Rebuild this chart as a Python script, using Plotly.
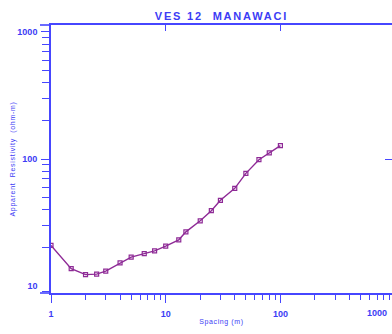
import plotly.graph_objects as go

# Sounding data: electrode half-spacing (m) and apparent resistivity (ohm-m)
spacing = [1, 1.5, 2, 2.5, 3, 4, 5, 6.5, 8, 10, 13, 15, 20, 25, 30, 40, 50, 65, 80, 100]
resistivity = [20.9, 13.7, 12.3, 12.4, 13.1, 15.2, 16.9, 18.0, 18.9, 20.6,
               23.1, 26.7, 32.6, 39.2, 47.3, 58.7, 77.1, 98.8, 111.7, 127.4]

x_major = [1, 10, 100]
x_major_text = ["1", "10", "100"]
y_major = [10, 100, 1000]
y_major_text = ["10", "100", "1000"]
minor_steps = [2, 3, 4, 5, 6, 7, 8, 9]
x_minor = [m * d for d in (1, 10, 100) for m in minor_steps]
y_minor = [m * d for d in (1, 10, 100) for m in minor_steps]

AXIS = "#4646ff"
TEXT = "#3c3cf5"
CURVE = "#8e2a96"

X_RANGE = [0, 2.973]
Y_RANGE = [0.945, 3.055]


def bold(labels):
    return ["<b>%s</b>" % s for s in labels]


fig = go.Figure()
fig.add_trace(go.Scatter(
    x=spacing, y=resistivity, mode="lines+markers",
    line=dict(color=CURVE, width=1.4),
    marker=dict(symbol="square-open", size=4, color=CURVE, line=dict(width=1.2, color=CURVE)),
    showlegend=False, hoverinfo="skip",
))
# empty traces so the decorative overlay axes get their own subplots
for xa, ya in (("x2", "y"), ("x", "y2"), ("x", "y3")):
    fig.add_trace(go.Scatter(x=[], y=[], xaxis=xa, yaxis=ya, showlegend=False))

tick_font = dict(family="Liberation Sans, Arial", size=9, color=TEXT)

fig.update_layout(
    width=392, height=334,
    margin=dict(l=51, r=0, t=25, b=41),
    paper_bgcolor="white", plot_bgcolor="white",
    title=dict(
        text='<b><span style="letter-spacing:1.8px">VES 12  MANAWACI</span></b>',
        font=dict(family="Liberation Sans, Arial", size=11, color=TEXT),
        x=0.5, xref="paper", xanchor="center",
        y=1 - 16 / 334, yref="container", yanchor="middle",
    ),
    xaxis=dict(
        type="log", range=X_RANGE, showgrid=False, zeroline=False,
        showline=True, linecolor=AXIS, linewidth=1.6,
        tickmode="array", tickvals=x_major, ticktext=bold(x_major_text),
        ticks="outside", ticklen=8, tickwidth=1.2, tickcolor=AXIS,
        tickfont=tick_font, ticklabelstandoff=3,
        minor=dict(tickmode="array", tickvals=x_minor, ticks="outside",
                   ticklen=5, tickwidth=1.2, tickcolor=AXIS),
        title=dict(text='<span style="letter-spacing:0.6px">Spacing (m)</span>',
                   font=dict(family="Liberation Sans, Arial", size=7, color=TEXT),
                   standoff=2),
    ),
    xaxis2=dict(
        type="log", range=X_RANGE, overlaying="x", side="top", anchor="y",
        showgrid=False, zeroline=False, showline=True, linecolor=AXIS, linewidth=1.6,
        tickmode="array", tickvals=[10, 100], ticks="inside", ticklen=6,
        tickwidth=1.2, tickcolor=AXIS, showticklabels=False,
    ),
    yaxis=dict(
        type="log", range=Y_RANGE, showgrid=False, zeroline=False,
        showline=True, linecolor=AXIS, linewidth=1.6,
        tickmode="array", tickvals=y_major, ticktext=bold(y_major_text),
        ticks="", tickfont=tick_font, ticklabelstandoff=10,
        minor=dict(tickmode="array", tickvals=y_minor, ticks="outside",
                   ticklen=7, tickwidth=1.2, tickcolor=AXIS),
        title=dict(text='<span style="letter-spacing:0.7px">Apparent  Resistivity  (ohm-m)</span>',
                   font=dict(family="Liberation Sans, Arial", size=7, color=TEXT),
                   standoff=1),
    ),
    yaxis2=dict(
        type="log", range=Y_RANGE, overlaying="y", side="right", anchor="x",
        showgrid=False, zeroline=False, showline=False,
        tickmode="array", tickvals=[100], ticks="inside", ticklen=7,
        tickwidth=1.4, tickcolor=AXIS, showticklabels=False,
    ),
    yaxis3=dict(
        type="log", range=Y_RANGE, overlaying="y", side="left", anchor="x",
        showgrid=False, zeroline=False, showline=False,
        tickmode="array", tickvals=[100, 1000], ticks="outside", ticklen=9,
        tickwidth=1.2, tickcolor=AXIS, showticklabels=False,
    ),
    annotations=[dict(
        text="<b>1000</b>", xref="paper", yref="paper",
        x=(377 - 51) / 341, y=(293 - 313) / 268, xanchor="center", yanchor="middle",
        showarrow=False, font=tick_font,
    )],
    shapes=[
        # short stubs of the frame lines past the left corner
        dict(type="line", xref="paper", yref="paper", x0=-11 / 341, x1=0, y0=0, y1=0,
             line=dict(color=AXIS, width=1.6)),
        dict(type="line", xref="paper", yref="paper", x0=-11 / 341, x1=0, y0=1, y1=1,
             line=dict(color=AXIS, width=1.6)),
    ],
)

fig.write_html("out.html")
